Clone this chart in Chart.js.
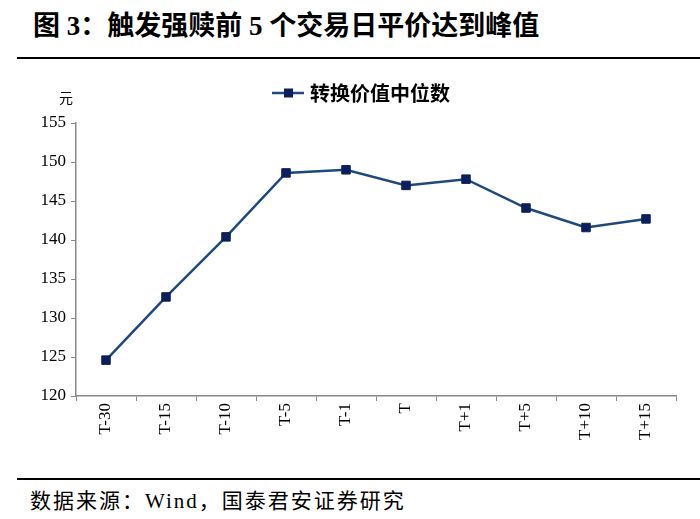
<!DOCTYPE html>
<html>
<head>
<meta charset="utf-8">
<script src="https://cdn.jsdelivr.net/npm/chart.js@4"></script>
<style>
  body { margin: 0; width: 700px; height: 519px; background: #fff; position: relative; overflow: hidden; }
  #title { position: absolute; left: 33px; top: 4px; font: bold 27px "Liberation Serif", "Noto Sans CJK SC"; color: #000; white-space: nowrap; }
  .rule { position: absolute; left: 17px; right: 0; height: 2px; background: #000; }
  #source { position: absolute; left: 30px; top: 484px; font: 21px "Liberation Serif", "Noto Sans CJK SC"; letter-spacing: 2px; color: #000; white-space: nowrap; }
  #wrap { position: absolute; left: 0; top: 60px; width: 700px; height: 410px; }
</style>
</head>
<body>
<div id="title">图 3：触发强赎前 5 个交易日平价达到峰值</div>
<div class="rule" style="top:57px"></div>
<div id="wrap"><canvas id="lineChart"></canvas></div>
<div class="rule" style="top:478px"></div>
<div id="source">数据来源：Wind，国泰君安证券研究</div>
<script>
const labels = ['T-30', 'T-15', 'T-10', 'T-5', 'T-1', 'T', 'T+1', 'T+5', 'T+10', 'T+15'];
const medianValue = [124.6, 132.7, 140.4, 148.6, 149.0, 147.0, 147.8, 144.1, 141.6, 142.7];
const seriesName = '转换价值中位数';
const yTicks = { min: 120, max: 155, step: 5 };

const lineColor = '#1F497D';
const markColor = '#0C1F5C';

// legend and unit label drawn by hand
const extras = {
  id: 'extras',
  afterDraw(chart) {
    const c = chart.ctx;
    c.save();
    // unit
    c.font = '14px "Noto Sans CJK SC"';
    c.fillStyle = '#000';
    c.textAlign = 'center';
    c.textBaseline = 'middle';
    c.fillText('元', 66, 38);
    // legend
    const y = 33;
    c.strokeStyle = lineColor;
    c.lineWidth = 2.5;
    c.beginPath();
    c.moveTo(272, y);
    c.lineTo(304, y);
    c.stroke();
    c.fillStyle = markColor;
    c.fillRect(284, y - 4.5, 9, 9);
    c.fillStyle = '#000';
    c.font = 'bold 20px "Noto Sans CJK SC"';
    c.textAlign = 'left';
    c.fillText(seriesName, 310, y);
    c.restore();
  }
};

const ctx = document.getElementById('lineChart').getContext('2d');
new Chart(ctx, {
  type: 'line',
  data: {
    labels: labels,
    datasets: [{
      label: seriesName,
      data: medianValue,
      borderColor: lineColor,
      borderWidth: 2.5,
      pointStyle: 'rect',
      pointRadius: 6,
      pointBackgroundColor: markColor,
      pointBorderColor: markColor,
      pointBorderWidth: 1,
      tension: 0,
      fill: false
    }]
  },
  options: {
    responsive: true,
    maintainAspectRatio: false,
    animation: false,
    layout: { padding: { top: 63, right: 24, left: 0, bottom: 0 } },
    plugins: { legend: { display: false }, tooltip: { enabled: false } },
    scales: {
      x: {
        offset: true,
        grid: { display: true, drawOnChartArea: false, drawTicks: true, tickLength: 5, color: '#888', offset: true },
        border: { color: '#888', width: 1.5 },
        ticks: {
          color: '#000',
          font: { family: 'Liberation Serif', size: 17 },
          minRotation: 90,
          maxRotation: 90,
          padding: 2
        },
        afterFit(s) { s.height = 74; }
      },
      y: {
        min: yTicks.min,
        max: yTicks.max,
        grid: { display: true, drawOnChartArea: false, drawTicks: true, tickLength: 5, color: '#888' },
        border: { color: '#888', width: 1.5 },
        ticks: {
          stepSize: yTicks.step,
          color: '#000',
          font: { family: 'Liberation Serif', size: 17 },
          padding: 5
        },
        afterFit(s) { s.width = 76; }
      }
    }
  },
  plugins: [extras]
});
</script>
</body>
</html>
